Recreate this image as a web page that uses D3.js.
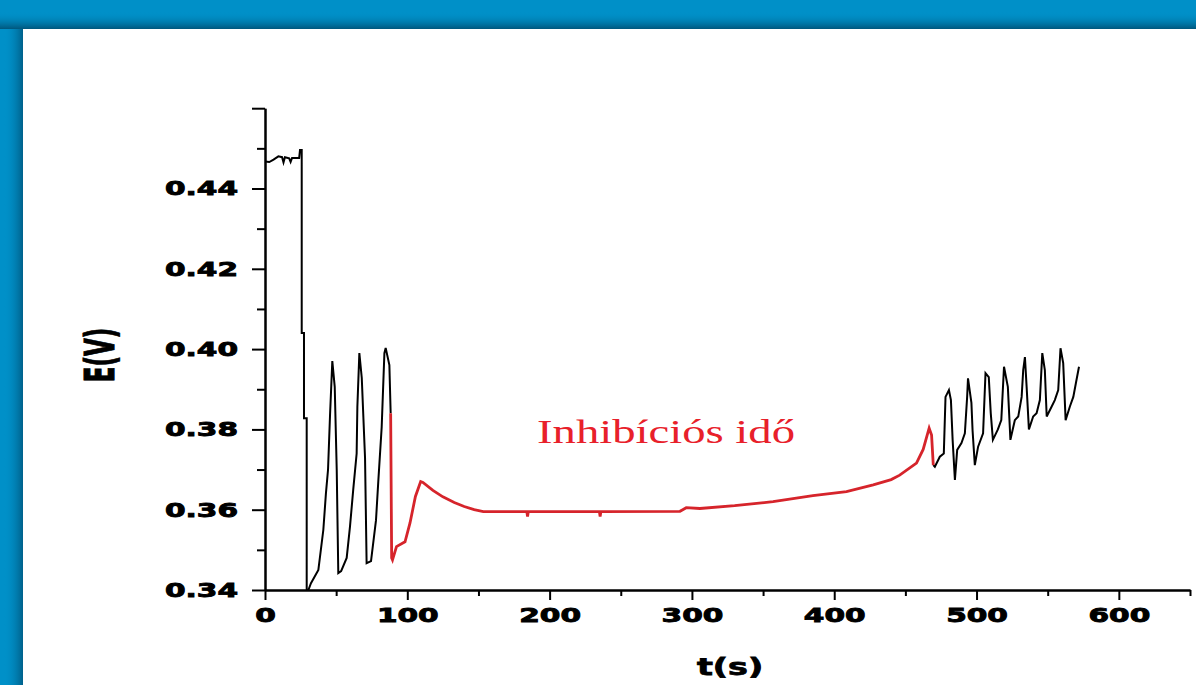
<!DOCTYPE html>
<html>
<head>
<meta charset="utf-8">
<script src="https://cdn.jsdelivr.net/npm/d3@7"></script>
<style>
  html, body { margin: 0; padding: 0; overflow: hidden; }
</style>
</head>
<body>
<script>
const width = 1196;
const height = 685;

// x ticks (s) and y ticks (V)
const xMajor = [0, 100, 200, 300, 400, 500, 600];
const xMinor = [50, 150, 250, 350, 450, 550, 650];
const yMajor = [0.34, 0.36, 0.38, 0.40, 0.42, 0.44, 0.46];
const yMinor = [0.35, 0.37, 0.39, 0.41, 0.43, 0.45];

// black part before the inhibition
const t1 = [0, 3, 6, 9.4, 12, 13, 14, 17, 18, 19, 24, 24.6, 25.8, 25.8, 27.4, 27.4, 29.3, 29.3, 30.5, 32.3, 37.5, 41, 42.8, 44.3, 45.7, 47.3, 49, 50.4, 51.5, 53.5, 57.4, 59.7, 62, 64.4, 64.9, 66.3, 68, 70.3, 71.4, 74.5, 78, 79.6, 82, 83.9, 84.8, 87.4, 88.3];
const e1 = [0.4467, 0.4466, 0.4472, 0.448, 0.4478, 0.4465, 0.4478, 0.4475, 0.4466, 0.4476, 0.4476, 0.4496, 0.4496, 0.404, 0.404, 0.3828, 0.3828, 0.340, 0.340, 0.3417, 0.345, 0.355, 0.364, 0.370, 0.3836, 0.397, 0.3906, 0.370, 0.3442, 0.3447, 0.348, 0.3557, 0.365, 0.374, 0.3856, 0.399, 0.3928, 0.3729, 0.3467, 0.3472, 0.3574, 0.367, 0.3806, 0.399, 0.4003, 0.396, 0.384];

// red part: inhibition time
const t2 = [88.3, 89, 89.6, 92.4, 98.4, 101.9, 105.7, 109.4, 111, 118, 125, 133, 140, 147, 153.4, 184, 184.5, 185, 235, 235.5, 236, 291.6, 296, 305.6, 330, 357, 385, 408.6, 427.4, 440, 446, 457.8, 462.5, 466.7, 468.4, 469.6];
const e2 = [0.384, 0.348, 0.3475, 0.3508, 0.352, 0.3567, 0.3633, 0.367, 0.3668, 0.3648, 0.3632, 0.3618, 0.3608, 0.3600, 0.3595, 0.3595, 0.3583, 0.3595, 0.3595, 0.3583, 0.3595, 0.3596, 0.3605, 0.3603, 0.3610, 0.3620, 0.3635, 0.3645, 0.3662, 0.3675, 0.3686, 0.3716, 0.375, 0.3803, 0.3786, 0.3711];

// black part after the inhibition
const t3 = [469.6, 470.7, 474.2, 477, 478.2, 480.6, 482, 483.2, 484.8, 486.4, 489.4, 491.8, 493.4, 494, 496.4, 497.2, 498.8, 501.1, 504.6, 506.3, 508.6, 510, 511.5, 515, 517.4, 519.3, 522, 523.8, 526.9, 529.3, 531.7, 532.8, 534, 535.2, 536.8, 539.8, 542.2, 544.5, 546.2, 548, 549.3, 552.8, 555, 557.4, 559, 560.9, 562.6, 565.6, 568, 569.8, 572];
const e3 = [0.3711, 0.3707, 0.3732, 0.374, 0.3881, 0.3898, 0.3873, 0.3774, 0.3674, 0.3749, 0.3766, 0.379, 0.3881, 0.3927, 0.3866, 0.3798, 0.3711, 0.3757, 0.379, 0.394, 0.393, 0.384, 0.3774, 0.380, 0.3823, 0.3956, 0.3906, 0.3774, 0.3823, 0.3832, 0.3881, 0.3948, 0.398, 0.3906, 0.380, 0.3832, 0.384, 0.3873, 0.399, 0.3948, 0.3832, 0.3857, 0.3873, 0.3898, 0.4002, 0.3965, 0.3823, 0.3857, 0.3881, 0.3915, 0.3956];

const svg = d3.select('body').append('svg')
	.attr('width', width)
	.attr('height', height);

// blue frame
const defs = svg.append('defs');
const gTop = defs.append('linearGradient').attr('id', 'shTop').attr('x1', 0).attr('y1', 0).attr('x2', 0).attr('y2', 1);
gTop.append('stop').attr('offset', '0%').attr('stop-color', '#0090c8').attr('stop-opacity', 0);
gTop.append('stop').attr('offset', '100%').attr('stop-color', '#00567c').attr('stop-opacity', 1);
const gLeft = defs.append('linearGradient').attr('id', 'shLeft').attr('x1', 0).attr('y1', 0).attr('x2', 1).attr('y2', 0);
gLeft.append('stop').attr('offset', '0%').attr('stop-color', '#0090c8').attr('stop-opacity', 0);
gLeft.append('stop').attr('offset', '100%').attr('stop-color', '#00608a').attr('stop-opacity', 1);

svg.append('rect').attr('width', width).attr('height', height).style('fill', '#0090c8');
svg.append('rect').attr('x', 0).attr('y', 12).attr('width', width).attr('height', 17).style('fill', 'url(#shTop)');
svg.append('rect').attr('x', 4).attr('y', 29).attr('width', 19).attr('height', height - 29).style('fill', 'url(#shLeft)');
svg.append('rect').attr('x', 23).attr('y', 29).attr('width', width - 23).attr('height', height - 29).style('fill', '#ffffff');

const x = d3.scaleLinear().domain([0, 650]).range([265, 1190]);
const y = d3.scaleLinear().domain([0.34, 0.46]).range([590, 108.2]);

const stretch = 1.48;
function styleLabels(sel) {
	sel.selectAll('text')
		.style('font-family', '"DejaVu Sans", sans-serif')
		.style('font-weight', 'bold')
		.style('font-size', '20px')
		.style('fill', '#000')
		.style('stroke', '#000')
		.style('stroke-width', 0.9)
		.each(function () {
			let w = this.getComputedTextLength();
			if (w > 0) {
				d3.select(this).attr('textLength', w * stretch).attr('lengthAdjust', 'spacingAndGlyphs');
			}
		});
	sel.selectAll('line, path').style('stroke', '#000').style('stroke-width', 2);
}

// y axis
svg.append('g')
	.attr('transform', 'translate(265,0)')
	.call(d3.axisLeft(y).tickValues(yMinor).tickSize(8).tickSizeOuter(0).tickFormat(''))
	.call(styleLabels);
svg.append('g')
	.attr('transform', 'translate(265,0)')
	.call(d3.axisLeft(y).tickValues(yMajor).tickSize(13).tickSizeOuter(0).tickPadding(14)
		.tickFormat(d => d > 0.455 ? '' : d3.format('.2f')(d)))
	.call(styleLabels);

// x axis
svg.append('g')
	.attr('transform', 'translate(0,590)')
	.call(d3.axisBottom(x).tickValues(xMinor).tickSize(6).tickSizeOuter(0).tickFormat(''))
	.call(styleLabels);
svg.append('g')
	.attr('transform', 'translate(0,590)')
	.call(d3.axisBottom(x).tickValues(xMajor).tickSize(10).tickSizeOuter(0).tickPadding(8).tickFormat(d3.format('d')))
	.call(styleLabels);

// axis titles
svg.append('text')
	.attr('transform', 'translate(99,355) scale(1.8,1) rotate(-90)')
	.attr('text-anchor', 'middle')
	.attr('dy', '0.36em')
	.style('font-family', '"DejaVu Sans", sans-serif')
	.style('font-weight', 'bold')
	.style('font-size', '23px')
	.style('stroke', '#000')
	.style('stroke-width', 0.6)
	.text('E(V)');

svg.append('text')
	.attr('transform', 'translate(730,675) scale(1.45,1)')
	.attr('text-anchor', 'middle')
	.style('font-family', '"DejaVu Sans", sans-serif')
	.style('font-weight', 'bold')
	.style('font-size', '23px')
	.style('stroke', '#000')
	.style('stroke-width', 0.8)
	.text('t(s)');

// curves
const line = d3.line()
	.x(d => x(d[0]))
	.y(d => y(d[1]));

const seg1 = d3.zip(t1, e1);
const seg2 = d3.zip(t2, e2);
const seg3 = d3.zip(t3, e3);

svg.append('path').datum(seg1).attr('d', line)
	.style('fill', 'none').style('stroke', '#000').style('stroke-width', 2);
svg.append('path').datum(seg3).attr('d', line)
	.style('fill', 'none').style('stroke', '#000').style('stroke-width', 2);
svg.append('path').datum(seg2).attr('d', line)
	.style('fill', 'none').style('stroke', '#d6242b').style('stroke-width', 2.8);

// annotation
svg.append('text')
	.attr('x', 537)
	.attr('y', 443)
	.attr('textLength', 258)
	.attr('lengthAdjust', 'spacingAndGlyphs')
	.style('font-family', '"Liberation Serif", "Times New Roman", serif')
	.style('font-size', '33px')
	.style('fill', '#e8202a')
	.text('Inhibíciós idő');
</script>
</body>
</html>
